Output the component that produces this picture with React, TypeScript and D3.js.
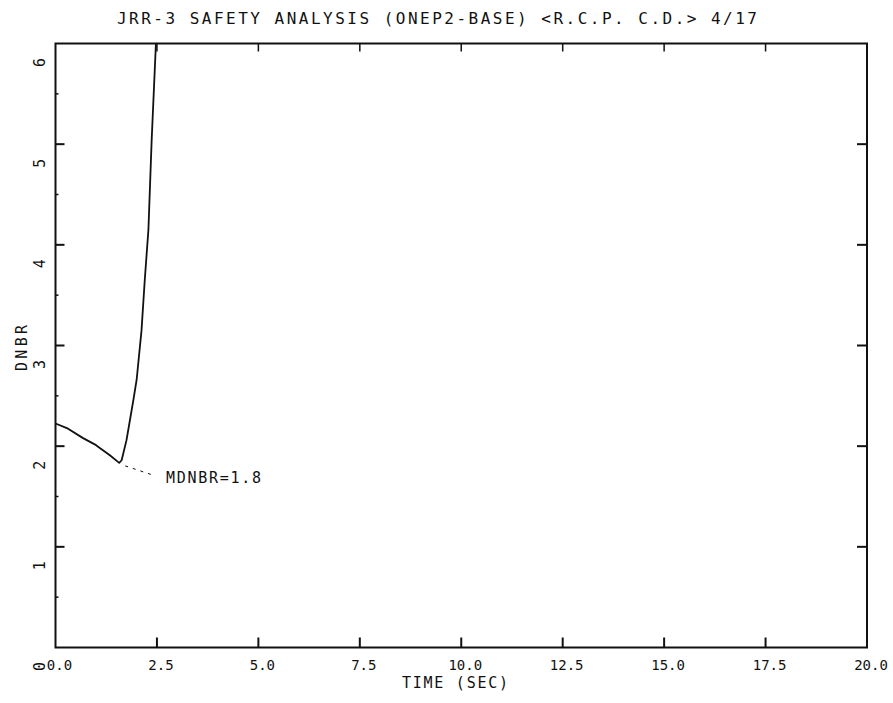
import React from "react";
import * as d3 from "d3";

const TITLE = "JRR-3 SAFETY ANALYSIS (ONEP2-BASE) <R.C.P. C.D.> 4/17";
const X_LABEL = "TIME (SEC)";
const Y_LABEL = "DNBR";
const X_TICKS = [0, 2.5, 5, 7.5, 10, 12.5, 15, 17.5, 20];
const X_TICK_LABELS = ["0.0", "2.5", "5.0", "7.5", "10.0", "12.5", "15.0", "17.5", "20.0"];
const Y_TICKS = [0, 1, 2, 3, 4, 5, 6];
const Y_TICK_LABELS = ["0", "1", "2", "3", "4", "5", "6"];
const Y_MINOR = [0.5, 1.5, 2.5, 3.5, 4.5, 5.5];

const TIME = [0, 0.28, 0.68, 1.0, 1.1, 1.34, 1.57, 1.63, 1.75, 1.835, 1.92, 2.0, 2.12, 2.2, 2.29, 2.37, 2.475];
const DNBR = [2.225, 2.18, 2.08, 2.01, 1.98, 1.91, 1.834, 1.86, 2.06, 2.26, 2.46, 2.66, 3.15, 3.65, 4.15, 5.04, 6.0];

const MDNBR_T = 1.57;
const MDNBR_V = 1.834;
const MDNBR_LABEL = "MDNBR=1.8";

export default function App() {
  const W = 893, H = 703;
  const left = 55.5, right = 867, top = 43.5, bottom = 647.5;
  const x = d3.scaleLinear().domain([0, 20]).range([left, right]);
  const y = d3.scaleLinear().domain([0, 6]).range([bottom, top]);
  const pts: [number, number][] = TIME.map((t, i) => [t, DNBR[i]]);
  const line = d3.line<[number, number]>().x(d => x(d[0])).y(d => y(d[1])).curve(d3.curveLinear);
  const font = "'DejaVu Sans Mono', monospace";
  const mx = x(MDNBR_T), my = y(MDNBR_V);
  return (
    <svg width={W} height={H} style={{ position: "absolute", left: 0, top: 0, background: "#fff" }}>
      <rect x={0} y={0} width={W} height={H} fill="#fff" />
      <text x={437} y={24} fontFamily={font} fontSize={16} textLength={640} lengthAdjust="spacing" textAnchor="middle" fill="#111">{TITLE}</text>
      <rect x={left} y={top} width={right - left} height={bottom - top} fill="none" stroke="#111" strokeWidth={2} />
      {X_TICKS.slice(1, -1).map(t => (
        <g key={"xt" + t}>
          <line x1={x(t)} x2={x(t)} y1={bottom} y2={bottom - 10} stroke="#111" strokeWidth={2} />
          <line x1={x(t)} x2={x(t)} y1={top} y2={top + 8} stroke="#111" strokeWidth={1.5} />
        </g>
      ))}
      {Y_TICKS.slice(1, -1).map(v => (
        <g key={"yt" + v}>
          <line x1={left} x2={left + 9} y1={y(v)} y2={y(v)} stroke="#111" strokeWidth={2} />
          <line x1={right} x2={right - 10} y1={y(v)} y2={y(v)} stroke="#111" strokeWidth={2} />
        </g>
      ))}
      {Y_MINOR.map(v => (
        <line key={"ym" + v} x1={left} x2={left + 3} y1={y(v)} y2={y(v)} stroke="#111" strokeWidth={1.5} />
      ))}
      {X_TICKS.map((t, i) => (
        <text key={"xl" + t} x={x(t) + 4} y={670} fontFamily={font} fontSize={14} textAnchor="middle" fill="#111">{X_TICK_LABELS[i]}</text>
      ))}
      {Y_TICKS.map((v, i) => (
        <text key={"yl" + v} transform={`translate(45,${y(v) + 19}) rotate(-90)`} fontFamily={font} fontSize={15} textAnchor="middle" fill="#111">{Y_TICK_LABELS[i]}</text>
      ))}
      <text x={455} y={688} fontFamily={font} fontSize={15} textLength={106} lengthAdjust="spacing" textAnchor="middle" fill="#111">{X_LABEL}</text>
      <text transform={`translate(27,348) rotate(-90)`} fontFamily={font} fontSize={15} textLength={46} lengthAdjust="spacing" textAnchor="middle" fill="#111">{Y_LABEL}</text>
      <path d={line(pts) || ""} fill="none" stroke="#111" strokeWidth={1.8} strokeLinejoin="round" />
      <line x1={mx + 6} y1={my + 3} x2={mx + 36} y2={my + 13} stroke="#111" strokeWidth={1} strokeDasharray="3,5" />
      <text x={166} y={483} fontFamily={font} fontSize={15} textLength={95} lengthAdjust="spacing" fill="#111">{MDNBR_LABEL}</text>
    </svg>
  );
}
